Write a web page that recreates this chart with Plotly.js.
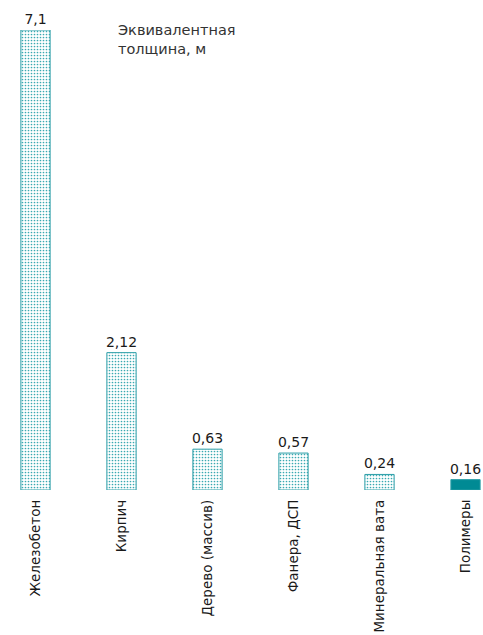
<!DOCTYPE html>
<html><head><meta charset="utf-8">
<script src="https://cdn.plot.ly/plotly-3.0.1.min.js"></script>
<style>html,body{margin:0;padding:0;background:#fff}</style>
</head><body><div id="c" style="width:483px;height:635px"></div>
<script>
const categories = ["Железобетон","Кирпич","Дерево (массив)","Фанера, ДСП","Минеральная вата","Полимеры"];
const values = [7.1, 2.12, 0.63, 0.57, 0.24, 0.16];
const valueLabels = ["7,1","2,12","0,63","0,57","0,24","0,16"];
const patterns = [".",".",".",".",".",""];
const teal = "#3aa9b1";
const solidTeal = "#008a94";
const colors = categories.map((c,i)=> patterns[i] ? teal : solidTeal);
const trace = {
  type:"bar", x:categories, y:values, text:valueLabels, textposition:"outside",
  cliponaxis:false, constraintext:"none", width:0.34,
  textfont:{family:"DejaVu Sans", size:14, color:"#1a1a1a"},
  marker:{color:colors, line:{color:"#2a9ea7", width:1},
    pattern:{shape:patterns, size:3, solidity:0.25, fillmode:"replace"}},
  hoverinfo:"none"
};
const layout = {
  width:483, height:635, margin:{l:0,r:0,t:30,b:145},
  paper_bgcolor:"#fff", plot_bgcolor:"#fff", showlegend:false,
  font:{family:"DejaVu Sans", color:"#1a1a1a"},
  xaxis:{range:[-0.4128,5.2035], tickangle:-90, showgrid:false, zeroline:false, showline:false,
    ticks:"", ticklabelstandoff:6, tickfont:{size:13.5, color:"#1a1a1a"}},
  yaxis:{range:[0,7.1], visible:false, fixedrange:true},
  annotations:[{xref:"paper", yref:"paper", x:116/483, y:1+10/460, xanchor:"left", yanchor:"top",
    text:"Эквивалентная<br>толщина, м", showarrow:false, align:"left",
    font:{size:14.5, color:"#333"}}]
};
Plotly.newPlot("c",[trace],layout,{staticPlot:true});
</script></body></html>
